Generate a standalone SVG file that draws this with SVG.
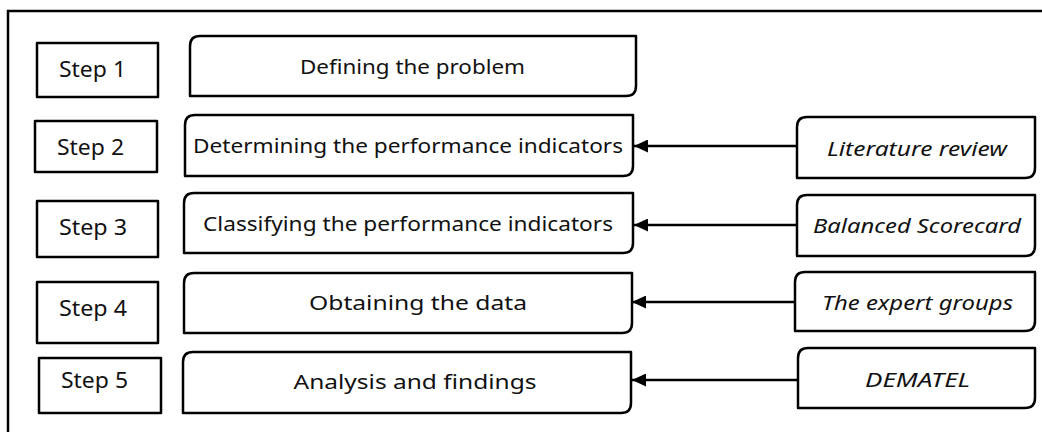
<svg xmlns="http://www.w3.org/2000/svg" width="1042" height="432" viewBox="0 0 1042 432">
  <defs>
    <marker id="arrowhead" viewBox="0 0 14 13" refX="14" refY="6.5" markerWidth="14" markerHeight="13" markerUnits="userSpaceOnUse" orient="auto">
      <path d="M0,0 L14,6.5 L0,13 Z" fill="#000"/>
    </marker>
    <style>
      .frame { fill: none; stroke: #000; stroke-width: 2.5; }
      .box { fill: #fff; stroke: #000; stroke-width: 2.5; stroke-linejoin: round; }
      .step { font-family: "Noto Sans", "Liberation Sans", sans-serif; font-size: 21px; fill: #111; text-anchor: middle; }
      .task { font-family: "Noto Sans", "Liberation Sans", sans-serif; font-size: 20px; fill: #111; text-anchor: middle; }
      .source { font-family: "Noto Sans", "Liberation Sans", sans-serif; font-size: 20px; font-style: italic; fill: #111; text-anchor: middle; }
      .link { fill: none; stroke: #000; stroke-width: 2.5; marker-end: url(#arrowhead); }
    </style>
  </defs>

  <rect width="1042" height="432" fill="#fff"/>

  <!-- outer frame, open to the right and bottom edges -->
  <path class="frame" d="M8,434 V11 H1044"/>

  <!-- step labels -->
  <g id="step1"><rect class="box" x="37" y="43" width="121" height="54"/><text class="step" x="92.5" y="76.5" textLength="67" lengthAdjust="spacingAndGlyphs">Step 1</text></g>
  <g id="step2"><rect class="box" x="35" y="121" width="122" height="51"/><text class="step" x="90.5" y="155" textLength="67" lengthAdjust="spacingAndGlyphs">Step 2</text></g>
  <g id="step3"><rect class="box" x="37" y="201" width="121" height="56"/><text class="step" x="93" y="235" textLength="68" lengthAdjust="spacingAndGlyphs">Step 3</text></g>
  <g id="step4"><rect class="box" x="37" y="282" width="121" height="61"/><text class="step" x="93" y="316" textLength="68" lengthAdjust="spacingAndGlyphs">Step 4</text></g>
  <g id="step5"><rect class="box" x="39" y="358" width="122" height="55"/><text class="step" x="94.5" y="388" textLength="67" lengthAdjust="spacingAndGlyphs">Step 5</text></g>

  <!-- process boxes: rounded top-left and bottom-right corners -->
  <g id="task1">
    <path class="box" d="M190,46 Q190,36 200,36 H636 V86 Q636,96 626,96 H190 Z"/>
    <text class="task" x="412.5" y="74" textLength="225" lengthAdjust="spacingAndGlyphs">Defining the problem</text>
  </g>
  <g id="task2">
    <path class="box" d="M185,125 Q185,115 195,115 H633 V166 Q633,176 623,176 H185 Z"/>
    <text class="task" x="408" y="153" textLength="430" lengthAdjust="spacingAndGlyphs">Determining the performance indicators</text>
  </g>
  <g id="task3">
    <path class="box" d="M184,203 Q184,193 194,193 H633 V243 Q633,253 623,253 H184 Z"/>
    <text class="task" x="408" y="231" textLength="410" lengthAdjust="spacingAndGlyphs">Classifying the performance indicators</text>
  </g>
  <g id="task4">
    <path class="box" d="M184,283 Q184,273 194,273 H632 V323 Q632,333 622,333 H184 Z"/>
    <text class="task" x="418" y="310" textLength="218" lengthAdjust="spacingAndGlyphs">Obtaining the data</text>
  </g>
  <g id="task5">
    <path class="box" d="M183,362 Q183,352 193,352 H631 V403 Q631,413 621,413 H183 Z"/>
    <text class="task" x="415" y="389" textLength="243" lengthAdjust="spacingAndGlyphs">Analysis and findings</text>
  </g>

  <!-- input sources -->
  <g id="source2">
    <path class="box" d="M797,127 Q797,117 807,117 H1035 V168 Q1035,178 1025,178 H797 Z"/>
    <text class="source" x="917" y="156" textLength="180" lengthAdjust="spacingAndGlyphs">Literature review</text>
  </g>
  <g id="source3">
    <path class="box" d="M797,205 Q797,195 807,195 H1035 V246 Q1035,256 1025,256 H797 Z"/>
    <text class="source" x="917" y="233" textLength="208" lengthAdjust="spacingAndGlyphs">Balanced Scorecard</text>
  </g>
  <g id="source4">
    <path class="box" d="M795,282 Q795,272 805,272 H1035 V321 Q1035,331 1025,331 H795 Z"/>
    <text class="source" x="917.5" y="310" textLength="191" lengthAdjust="spacingAndGlyphs">The expert groups</text>
  </g>
  <g id="source5">
    <path class="box" d="M798,358 Q798,348 808,348 H1035 V398 Q1035,408 1025,408 H798 Z"/>
    <text class="source" x="917.5" y="387" textLength="105" lengthAdjust="spacingAndGlyphs">DEMATEL</text>
  </g>

  <!-- connectors -->
  <g id="connectors">
    <line class="link" x1="797" y1="146" x2="634" y2="146"/>
    <line class="link" x1="797" y1="225" x2="634" y2="225"/>
    <line class="link" x1="795" y1="302" x2="632" y2="302"/>
    <line class="link" x1="798" y1="380" x2="632" y2="380"/>
  </g>
</svg>
